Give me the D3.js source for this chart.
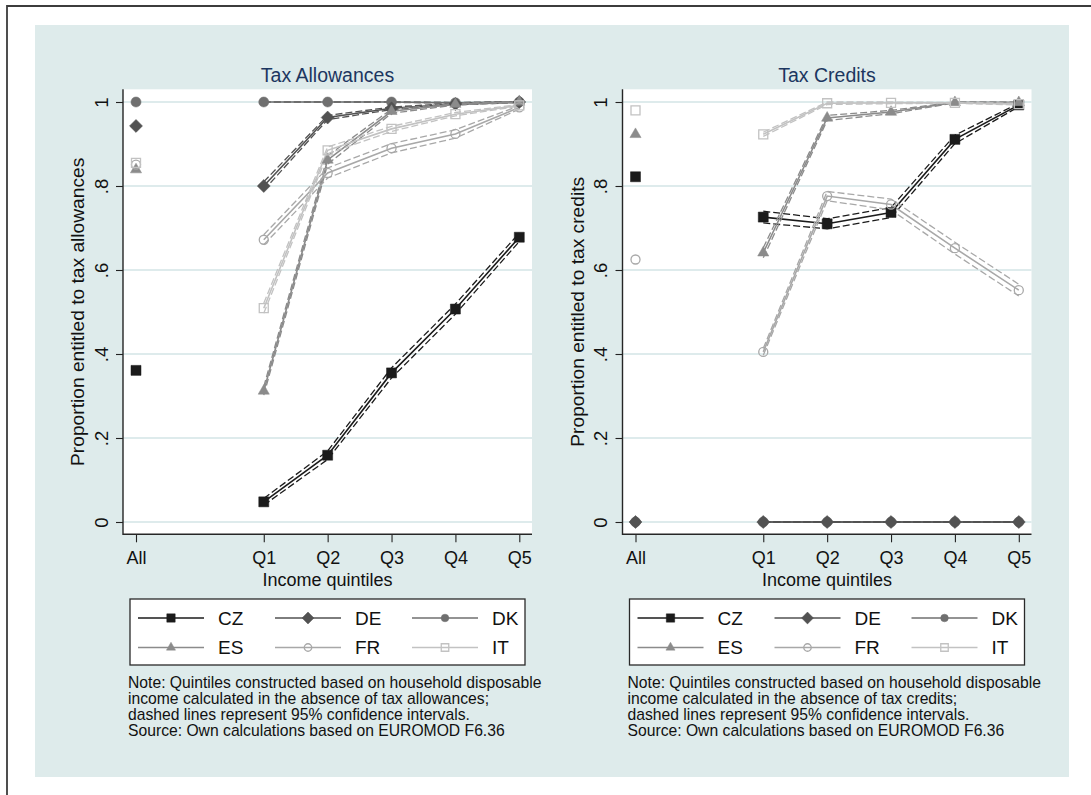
<!DOCTYPE html>
<html><head><meta charset="utf-8">
<script src="https://cdn.jsdelivr.net/npm/d3@7"></script>
<style>
body{margin:0;background:#fff}
svg{display:block}
text{font-family:"Liberation Sans",Arial,Helvetica,sans-serif}
</style>
</head><body>
<svg id="c" width="1091" height="795"></svg>
<script>
// ---------- data ----------
const xTickLabels = ["All","Q1","Q2","Q3","Q4","Q5"];
const yTickValues = [0, 0.2, 0.4, 0.6, 0.8, 1];
const countries = ["CZ","DE","DK","ES","FR","IT"];

// Tax allowances: value for "All", then Q1..Q5, plus 95% CI half-widths
const allowAll = [0.361, 0.943, 1.000, 0.839, 0.851, 0.855];
const allowCZ = [0.048, 0.159, 0.355, 0.507, 0.678];
const allowDE = [0.800, 0.963, 0.985, 0.995, 1.000];
const allowDK = [1.000, 1.000, 1.000, 0.998, 1.000];
const allowES = [0.312, 0.862, 0.978, 0.995, 1.000];
const allowFR = [0.672, 0.831, 0.890, 0.924, 0.987];
const allowIT = [0.509, 0.885, 0.936, 0.971, 0.992];
const allowCZci = [0.008, 0.010, 0.012, 0.012, 0.010];
const allowDEci = [0.010, 0.005, 0.003, 0.002, 0.001];
const allowDKci = [0.001, 0.001, 0.001, 0.001, 0.001];
const allowESci = [0.010, 0.010, 0.005, 0.002, 0.001];
const allowFRci = [0.012, 0.012, 0.011, 0.010, 0.004];
const allowITci = [0.012, 0.008, 0.006, 0.004, 0.002];

// Tax credits
const creditAll = [0.822, 0.000, 0.000, 0.923, 0.625, 0.980];
const creditCZ = [0.726, 0.710, 0.737, 0.911, 0.993];
const creditDE = [0, 0, 0, 0, 0];
const creditDK = [0, 0, 0, 0, 0];
const creditES = [0.641, 0.962, 0.976, 0.999, 0.999];
const creditFR = [0.405, 0.776, 0.756, 0.652, 0.552];
const creditIT = [0.923, 0.997, 0.998, 0.998, 0.995];
const creditCZci = [0.014, 0.012, 0.012, 0.010, 0.004];
const creditDEci = [0, 0, 0, 0, 0];
const creditDKci = [0, 0, 0, 0, 0];
const creditESci = [0.012, 0.006, 0.004, 0.001, 0.001];
const creditFRci = [0.008, 0.011, 0.013, 0.014, 0.014];
const creditITci = [0.005, 0.003, 0.002, 0.001, 0.002];

const titles = ["Tax Allowances", "Tax Credits"];
const yTitles = ["Proportion entitled to tax allowances", "Proportion entitled to tax credits"];
const xTitle = "Income quintiles";
const noteAllow = ["Note: Quintiles constructed based on household disposable",
  "income calculated in the absence of tax allowances;",
  "dashed lines represent 95% confidence intervals.",
  "Source: Own calculations based on EUROMOD F6.36"];
const noteCredit = ["Note: Quintiles constructed based on household disposable",
  "income calculated in the absence of tax credits;",
  "dashed lines represent 95% confidence intervals.",
  "Source: Own calculations based on EUROMOD F6.36"];

// ---------- styles ----------
const colors = {CZ:"#1b1b1b", DE:"#525252", DK:"#6f6f6f", ES:"#8b8b8b", FR:"#a8a8a8", IT:"#c2c2c2"};
const marks = {
  CZ:{sym:d3.symbolSquare, size:100, leg:70, fill:true, rot:0},
  DE:{sym:d3.symbolSquare, size:84, leg:70, fill:true, rot:45},
  DK:{sym:d3.symbolCircle, size:80, leg:46, fill:true, rot:0},
  ES:{sym:d3.symbolTriangle, size:54, leg:36, fill:true, rot:0},
  FR:{sym:d3.symbolCircle, size:64, leg:44, fill:false, rot:0},
  IT:{sym:d3.symbolSquare, size:81, leg:56, fill:false, rot:0}
};
const drawOrder = ["DK","DE","CZ","ES","FR","IT"];

const panels = [
  {dx:0, title:titles[0], ytitle:yTitles[0], all:allowAll,
   series:{CZ:allowCZ, DE:allowDE, DK:allowDK, ES:allowES, FR:allowFR, IT:allowIT},
   ci:{CZ:allowCZci, DE:allowDEci, DK:allowDKci, ES:allowESci, FR:allowFRci, IT:allowITci},
   note:noteAllow},
  {dx:499.5, title:titles[1], ytitle:yTitles[1], all:creditAll,
   series:{CZ:creditCZ, DE:creditDE, DK:creditDK, ES:creditES, FR:creditFR, IT:creditIT},
   ci:{CZ:creditCZci, DE:creditDEci, DK:creditDKci, ES:creditESci, FR:creditFRci, IT:creditITci},
   note:noteCredit}
];

const svg = d3.select("#c");
const F = '"Liberation Sans",Arial,Helvetica,sans-serif';

// background
svg.append("rect").attr("width",1091).attr("height",795).attr("fill","#fff");
svg.append("rect").attr("x",35).attr("y",25).attr("width",1034).attr("height",752).attr("fill","#deebeb");
svg.append("path").attr("d","M7,795V6H1091").attr("fill","none").attr("stroke","#3c3c3c").attr("stroke-width",1.8);

const xPos = [0,2,3,4,5,6];
const y = d3.scaleLinear().domain([0,1]).range([522,102]);
const plotTop = 89.3, plotBot = 534.3;

function markerPath(c, legend){
  const m = marks[c];
  return d3.symbol().type(m.sym).size(legend ? m.leg : m.size)();
}
function drawMarker(g, c, cx, cy, legend){
  const m = marks[c];
  g.append("path").attr("d", markerPath(c, legend))
    .attr("transform", `translate(${cx},${cy}) rotate(${m.rot})`)
    .attr("fill", m.fill ? colors[c] : "none")
    .attr("stroke", colors[c])
    .attr("stroke-width", m.fill ? 0.5 : 1.3);
}

panels.forEach(p => {
  const dx = p.dx;
  const x = d3.scaleLinear().domain([0,6]).range([136+dx, 519.3+dx]);
  const left = 123+dx, right = 532+dx;
  const g = svg.append("g");

  // plot region
  g.append("rect").attr("x",left).attr("y",plotTop).attr("width",right-left).attr("height",plotBot-plotTop).attr("fill","#fff");
  // gridlines
  g.selectAll(".grid").data(yTickValues).enter().append("line")
    .attr("x1",left).attr("x2",right).attr("y1",d=>y(d)).attr("y2",d=>y(d))
    .attr("stroke","#d3e5e6").attr("stroke-width",1.3);

  // title
  g.append("text").attr("x",(left+right)/2).attr("y",82).attr("text-anchor","middle")
    .attr("font-size",19.5).attr("fill","#1c3660").text(p.title);

  // y axis
  const yAxis = d3.axisLeft(y).tickValues(yTickValues).tickSize(7).tickSizeOuter(0)
    .tickFormat(d => d===0 ? "0" : d===1 ? "1" : d3.format(".1f")(d).replace(/^0/,""));
  const ya = g.append("g").attr("transform",`translate(${left},0)`).call(yAxis);
  ya.select(".domain").remove();
  ya.selectAll("line").attr("stroke","#222").attr("stroke-width",1.1);
  ya.selectAll("text").attr("transform","rotate(-90)").attr("x",0).attr("y",-15.5).attr("dy",0)
    .attr("text-anchor","middle").attr("font-size",18.5).attr("font-family",F).attr("fill","#111");

  // x axis
  const xAxis = d3.axisBottom(x).tickValues(xPos).tickSize(8).tickSizeOuter(0)
    .tickFormat((d,i) => xTickLabels[i]);
  const xa = g.append("g").attr("transform",`translate(0,${plotBot})`).call(xAxis);
  xa.select(".domain").remove();
  xa.selectAll("line").attr("stroke","#222").attr("stroke-width",1.1);
  xa.selectAll("text").attr("y",29.3).attr("dy",0).attr("font-size",18).attr("font-family",F).attr("fill","#111");

  // axis lines
  g.append("path").attr("d",`M${left},${plotTop}V${plotBot}H${right}`).attr("fill","none")
    .attr("stroke","#262626").attr("stroke-width",1.4);

  // axis titles
  g.append("text").attr("x",(left+right)/2).attr("y",586).attr("text-anchor","middle")
    .attr("font-size",18).attr("fill","#111").text(xTitle);
  g.append("text").attr("transform",`translate(${84+dx},${(plotTop+plotBot)/2}) rotate(-90)`)
    .attr("text-anchor","middle").attr("font-size",19.2).attr("fill","#111").text(p.ytitle);

  // series
  const line = d3.line().x(d=>x(d[0])).y(d=>y(d[1]));
  drawOrder.forEach(c => {
    const vals = p.series[c], ci = p.ci[c];
    const pts = vals.map((v,i)=>[xPos[i+1], v]);
    const up = vals.map((v,i)=>[xPos[i+1], v+ci[i]]);
    const lo = vals.map((v,i)=>[xPos[i+1], v-ci[i]]);
    [up, lo].forEach(b => g.append("path").attr("d",line(b)).attr("fill","none")
      .attr("stroke",colors[c]).attr("stroke-width",1.3).attr("stroke-dasharray","7,3"));
    g.append("path").attr("d",line(pts)).attr("fill","none")
      .attr("stroke",colors[c]).attr("stroke-width",1.6);
  });
  drawOrder.forEach(c => {
    const idx = countries.indexOf(c);
    drawMarker(g, c, x(xPos[0]), y(p.all[idx]), false);
    p.series[c].forEach((v,i) => drawMarker(g, c, x(xPos[i+1]), y(v), false));
  });

  // legend
  const lg = g.append("g");
  lg.append("rect").attr("x",130+dx).attr("y",599).attr("width",395).attr("height",66)
    .attr("fill","#fff").attr("stroke","#2a2a2a").attr("stroke-width",1.3);
  countries.forEach((c,i) => {
    const col = i % 3, row = Math.floor(i/3);
    const lx = 138 + dx + col*137;
    const ly = 618 + row*29.5;
    lg.append("line").attr("x1",lx).attr("x2",lx+66).attr("y1",ly).attr("y2",ly)
      .attr("stroke",colors[c]).attr("stroke-width",1.6);
    drawMarker(lg, c, lx+33, ly, true);
    lg.append("text").attr("x",lx+80).attr("y",ly+6.8).attr("font-size",19).attr("fill","#111").text(c);
  });

  // note
  const nt = g.append("text").attr("font-size",15.7).attr("fill","#111");
  p.note.forEach((t,i) => nt.append("tspan").attr("x",128+dx).attr("y",688.3+i*15.9).text(t));
});
</script>
</body></html>
